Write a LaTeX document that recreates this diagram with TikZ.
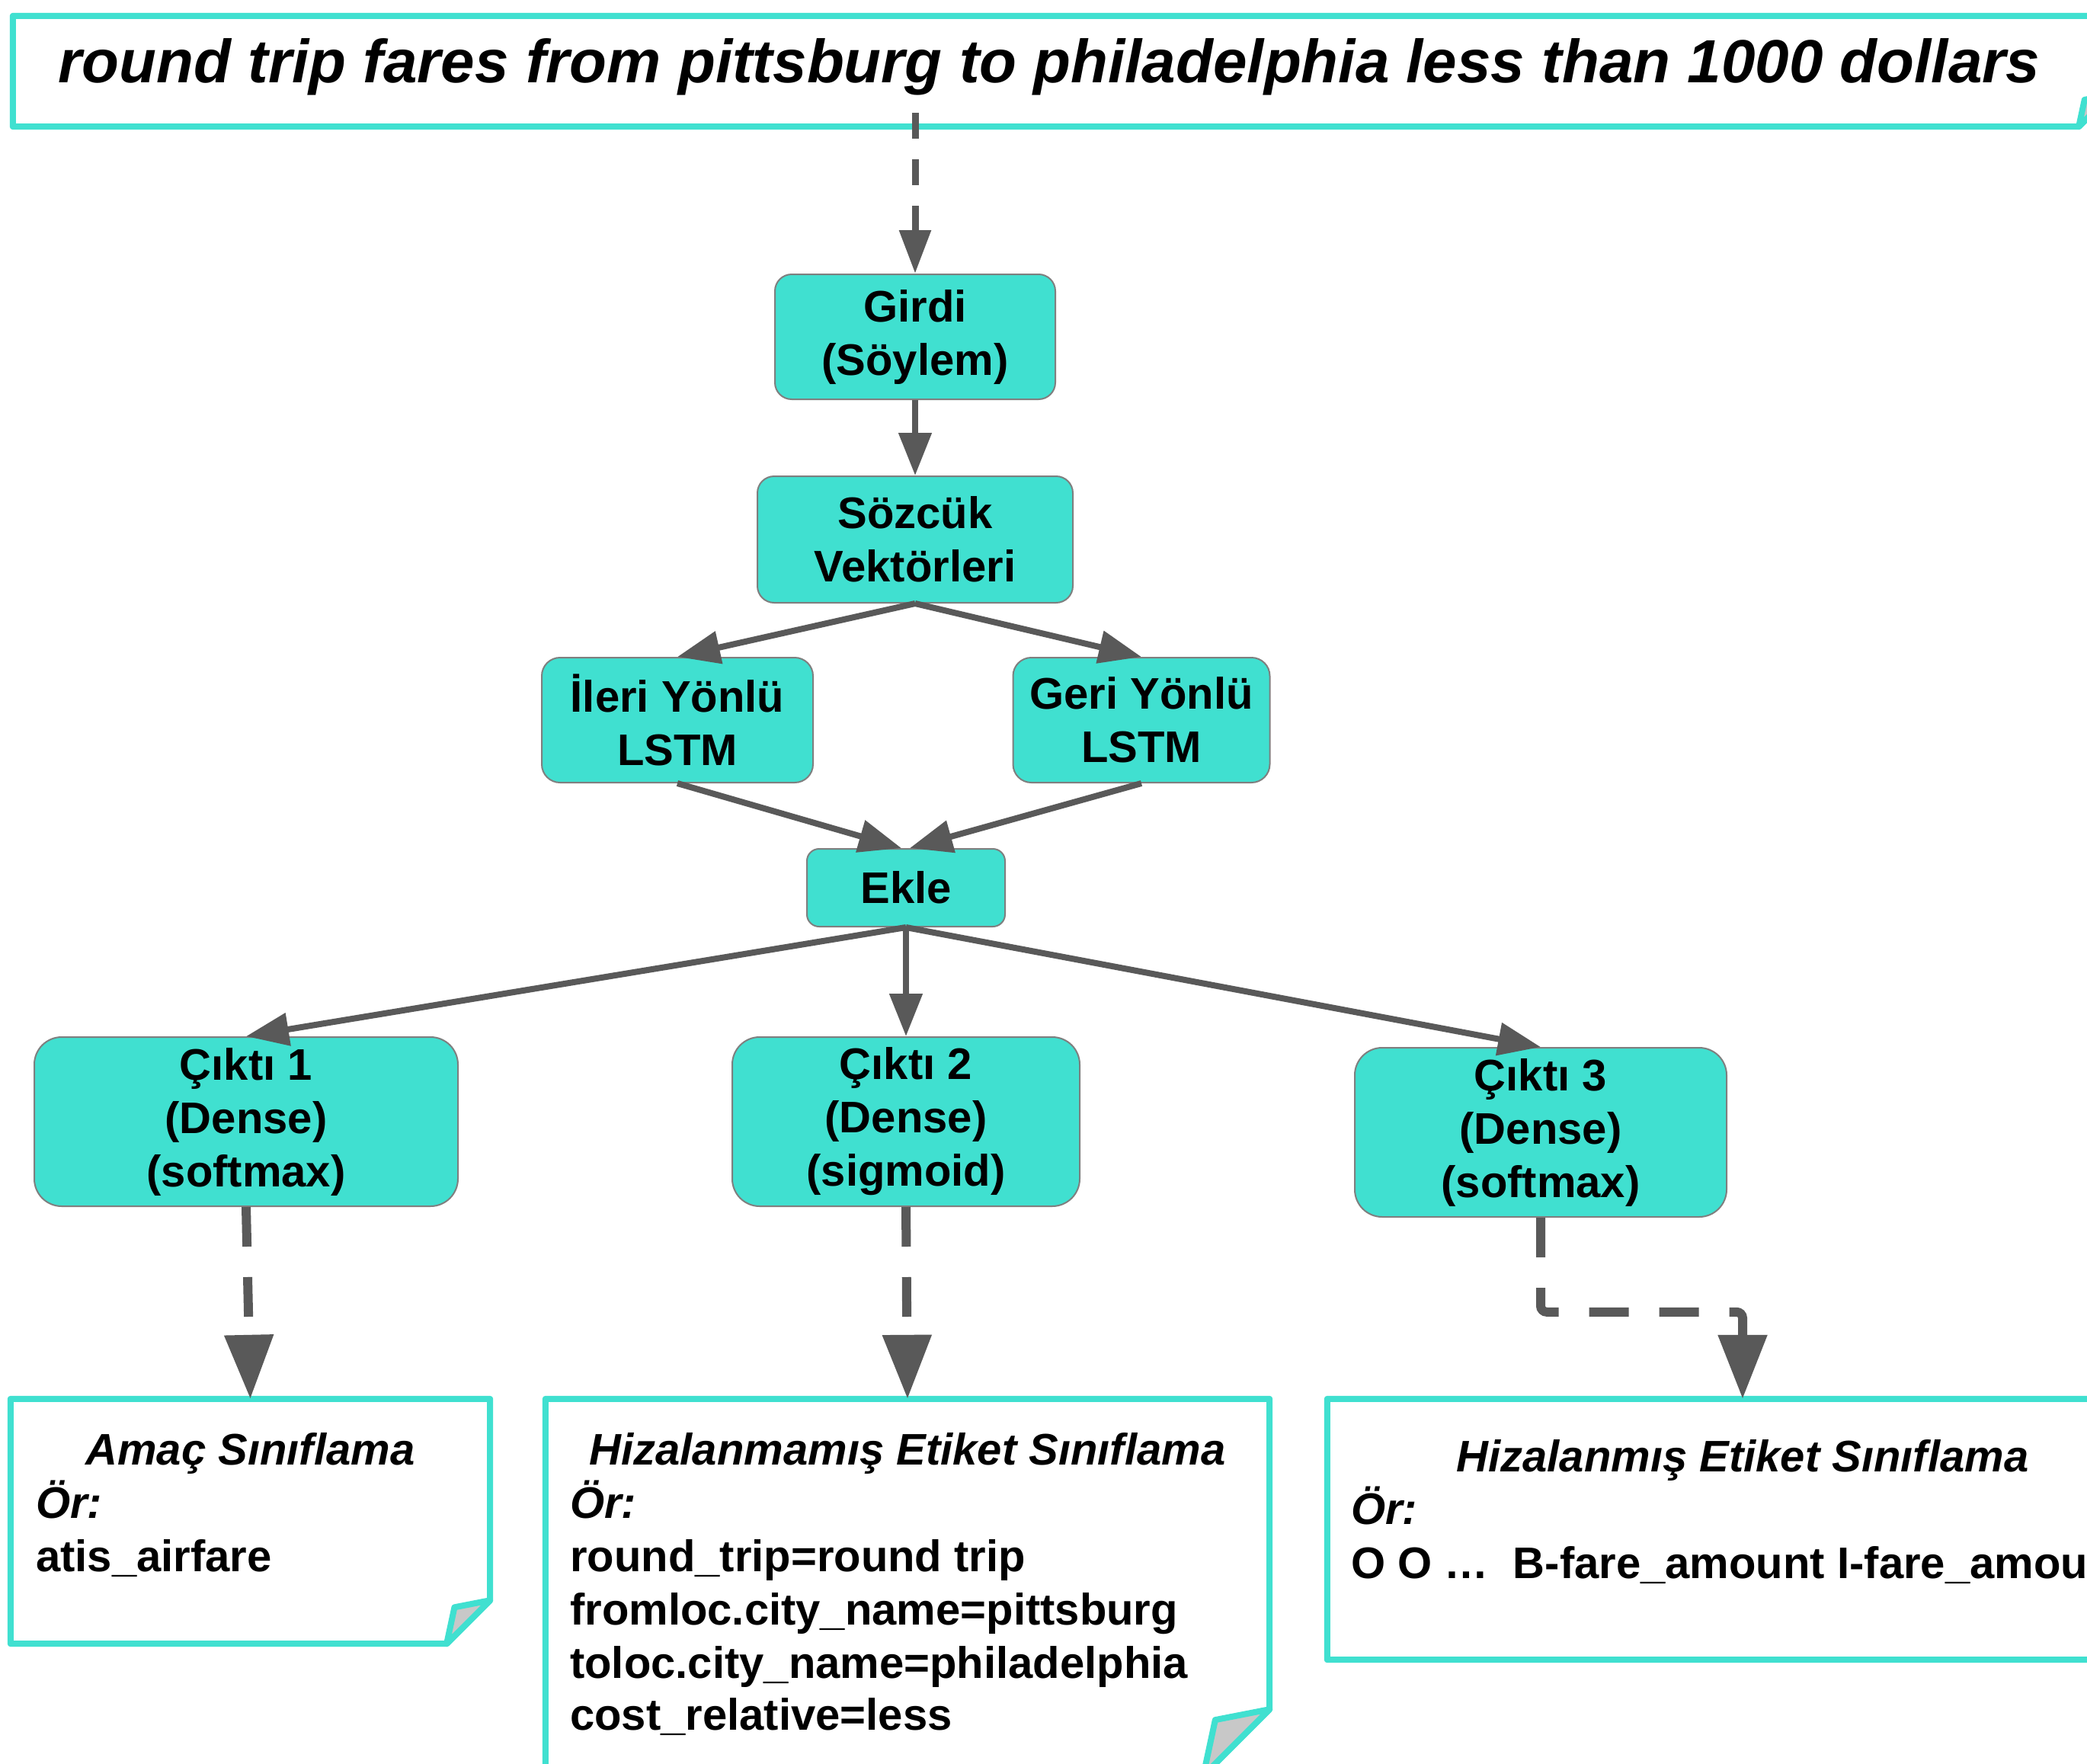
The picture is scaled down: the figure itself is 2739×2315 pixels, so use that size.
\documentclass[tikz,border=0pt]{standalone}
\usepackage{fontspec}
\setmainfont{Liberation Sans}
\usetikzlibrary{arrows.meta,calc}
\definecolor{turq}{HTML}{40E0D0}
\definecolor{arrowgray}{HTML}{595959}
\definecolor{boxedge}{HTML}{7F7F7F}
\definecolor{flapgray}{HTML}{C8C8C8}
\newcommand{\drawnote}[2]{%
  \draw[noteline] (#1.north west) -- (#1.north east) -- ($(#1.south east)+(0,-#2)$) -- ($(#1.south east)+(-#2,0)$) -- (#1.south west) -- cycle;
  \draw[noteline, fill=flapgray] ($(#1.south east)+(0,-#2)$) -- ($(#1.south east)+(-0.82*#2,-0.84*#2)$) -- ($(#1.south east)+(-#2,0)$) -- cycle;
}
\begin{document}
\begin{tikzpicture}[x=1pt,y=-1pt,
  layer/.style={draw=boxedge, line width=2pt, fill=turq, align=center, inner sep=0pt,
    font=\fontsize{58}{70}\selectfont\bfseries},
  conn/.style={draw=arrowgray, line width=8pt, -{Triangle[length=56pt,width=42pt]}},
  dconn/.style={draw=arrowgray, line width=12pt, dash pattern=on 52pt off 40pt,
    -{Triangle[length=84pt,width=62pt]}},
  tconn/.style={draw=arrowgray, line width=9pt, dash pattern=on 34pt off 27pt,
    -{Triangle[length=57pt,width=40pt]}},
  notebox/.style={draw=none, inner sep=0pt},
  noteline/.style={draw=turq, line width=8pt, line join=round, fill=white},
  nhead/.style={font=\fontsize{58}{70}\selectfont\bfseries\itshape, inner sep=0pt, anchor=base},
  nital/.style={font=\fontsize{58}{70}\selectfont\bfseries\itshape, inner sep=0pt, anchor=base west},
  nbody/.style={font=\fontsize{58}{70}\selectfont\bfseries, inner sep=0pt, anchor=base west}
]
\useasboundingbox (0,0) rectangle (2739,2315);
\clip (0,0) rectangle (2739,2315);
\fill[white] (0,0) rectangle (2739,2315);

% title note
\node[notebox, minimum width=2753pt, minimum height=145pt] (title) at (1393.5,93.5) {};
\drawnote{title}{42}
\node[font=\fontsize{80}{96}\selectfont\bfseries\itshape, anchor=base, inner sep=0pt] (titletext) at (1377,108)
  {round trip fares from pittsburg to philadelphia less than 1000 dollars};

% layers
\node[layer, minimum width=368pt, minimum height=164pt, rounded corners=22pt] (girdi) at (1201,442) {Girdi\\(Söylem)};
\node[layer, minimum width=414pt, minimum height=166pt, rounded corners=22pt] (sozcuk) at (1201,708) {Sözcük\\Vektörleri};
\node[layer, minimum width=356pt, minimum height=164pt, rounded corners=24pt] (ileri) at (889,945) {İleri Yönlü\\LSTM};
\node[layer, minimum width=337pt, minimum height=164pt, rounded corners=24pt] (geri) at (1498,945) {Geri Yönlü\\LSTM};
\node[layer, minimum width=260pt, minimum height=102pt, rounded corners=16pt] (ekle) at (1189,1165) {Ekle};
\node[layer, minimum width=556pt, minimum height=222pt, rounded corners=36pt] (cikti1) at (323,1472) {Çıktı 1\\(Dense)\\(softmax)};
\node[layer, minimum width=456pt, minimum height=222pt, rounded corners=36pt] (cikti2) at (1189,1472) {Çıktı 2\\(Dense)\\(sigmoid)};
\node[layer, minimum width=488pt, minimum height=222pt, rounded corners=36pt] (cikti3) at (2022,1486) {Çıktı 3\\(Dense)\\(softmax)};

% notes
\node[notebox, minimum width=629pt, minimum height=321pt] (note1) at (328.5,1996.5) {};
\node[notebox, minimum width=950pt, minimum height=494pt] (note2) at (1191,2083) {};
\node[notebox, minimum width=1090pt, minimum height=342pt] (note3) at (2287,2007) {};
\drawnote{note1}{57}
\drawnote{note2}{87}
\drawnote{note3}{57}

\node[nhead] (n1h) at (328.5,1922) {Amaç Sınıflama};
\node[nital] (n1a) at (47,1992) {Ör:};
\node[nbody] (n1b) at (47,2062) {atis\_airfare};

\node[nhead] (n2h) at (1191,1922) {Hizalanmamış Etiket Sınıflama};
\node[nital] (n2a) at (748,1992) {Ör:};
\node[nbody] (n2b) at (748,2062) {round\_trip=round trip};
\node[nbody] (n2c) at (748,2132) {fromloc.city\_name=pittsburg};
\node[nbody] (n2d) at (748,2202) {toloc.city\_name=philadelphia};
\node[nbody] (n2e) at (748,2270) {cost\_relative=less};

\node[nhead] (n3h) at (2287,1931) {Hizalanmış Etiket Sınıflama};
\node[nital] (n3a) at (1773,2000) {Ör:};
\node[nbody] (n3b) at (1773,2071) {O O …\ \ B-fare\_amount I-fare\_amou};

% connectors
\draw[tconn] ($(girdi.north |- title.south)+(0,-18)$) -- (girdi.north);
\draw[conn] (girdi.south) -- (sozcuk.north);
\draw[conn] (sozcuk.south) -- (ileri.north);
\draw[conn] (sozcuk.south) -- (geri.north);
\draw[conn] (ileri.south) -- ($(ekle.north)+(-6,0)$);
\draw[conn] (geri.south) -- ($(ekle.north)+(5,0)$);
\draw[conn] (ekle.south) -- (cikti1.north);
\draw[conn] (ekle.south) -- (cikti2.north);
\draw[conn] (ekle.south) -- (cikti3.north);
\draw[dconn] (cikti1.south) -- (note1.north);
\draw[dconn] (cikti2.south) -- (note2.north);
\draw[dconn, rounded corners=8pt] (cikti3.south) |- ($(note3.north)+(0,-114)$) -- (note3.north);
\end{tikzpicture}
\end{document}
